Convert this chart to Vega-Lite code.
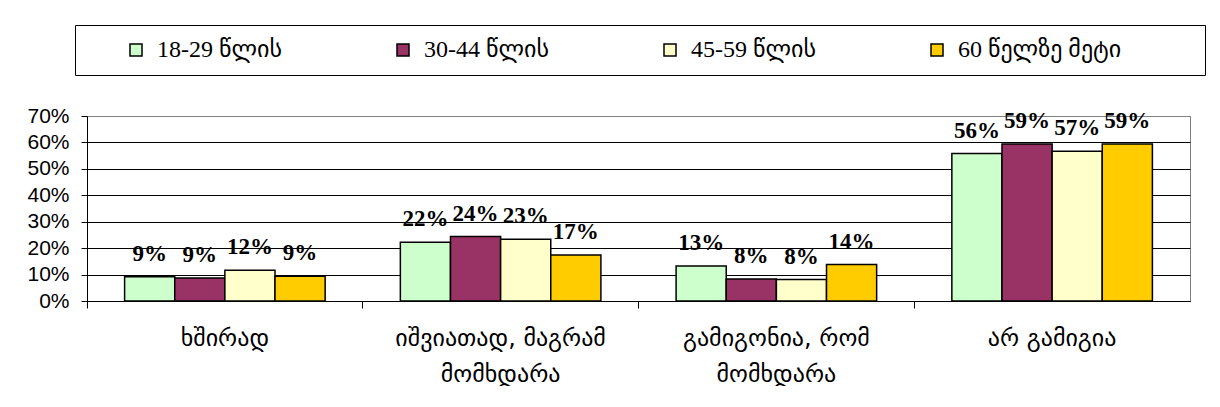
{
  "$schema": "https://vega.github.io/schema/vega-lite/v6.json",
  "width": 1103,
  "height": 185,
  "padding": {"left": 26, "top": 24, "right": 5, "bottom": 0},
  "background": "white",
  "config": {
    "view": {"stroke": "#808080", "strokeWidth": 1},
    "axis": {"labelColor": "black", "domainColor": "black", "tickColor": "black"}
  },
  "data": {
    "values": [
      {"cat": "ხშირად", "age": "18-29 წლის", "v": 0.092},
      {"cat": "ხშირად", "age": "30-44 წლის", "v": 0.087},
      {"cat": "ხშირად", "age": "45-59 წლის", "v": 0.116},
      {"cat": "ხშირად", "age": "60 წელზე მეტი", "v": 0.094},
      {"cat": "იშვიათად, მაგრამ მომხდარა", "age": "18-29 წლის", "v": 0.222},
      {"cat": "იშვიათად, მაგრამ მომხდარა", "age": "30-44 წლის", "v": 0.244},
      {"cat": "იშვიათად, მაგრამ მომხდარა", "age": "45-59 წლის", "v": 0.234},
      {"cat": "იშვიათად, მაგრამ მომხდარა", "age": "60 წელზე მეტი", "v": 0.174},
      {"cat": "გამიგონია, რომ მომხდარა", "age": "18-29 წლის", "v": 0.132},
      {"cat": "გამიგონია, რომ მომხდარა", "age": "30-44 წლის", "v": 0.083},
      {"cat": "გამიგონია, რომ მომხდარა", "age": "45-59 წლის", "v": 0.081},
      {"cat": "გამიგონია, რომ მომხდარა", "age": "60 წელზე მეტი", "v": 0.138},
      {"cat": "არ გამიგია", "age": "18-29 წლის", "v": 0.558},
      {"cat": "არ გამიგია", "age": "30-44 წლის", "v": 0.594},
      {"cat": "არ გამიგია", "age": "45-59 წლის", "v": 0.567},
      {"cat": "არ გამიგია", "age": "60 წელზე მეტი", "v": 0.594}
    ]
  },
  "resolve": {"axis": {"x": "independent"}},
  "layer": [
    {
      "mark": {"type": "bar", "stroke": "black", "strokeWidth": 1.5},
      "encoding": {
        "x": {
          "field": "cat", "type": "nominal", "sort": null,
          "scale": {"paddingInner": 0, "paddingOuter": 0},
          "axis": {"orient": "bottom", "title": null, "labels": false, "ticks": true, "tickSize": 7, "bandPosition": 0, "domain": true, "grid": false}
        },
        "xOffset": {
          "field": "age", "type": "nominal", "sort": null,
          "scale": {"paddingInner": 0, "paddingOuter": 0.75}
        },
        "y": {
          "field": "v", "type": "quantitative",
          "scale": {"domain": [0, 0.7], "nice": false},
          "axis": {
            "title": null, "format": ".0%", "values": [0, 0.1, 0.2, 0.3, 0.4, 0.5, 0.6, 0.7],
            "labelOverlap": false,
            "labelFont": "Liberation Sans", "labelFontSize": 21, "labelPadding": 12, "tickSize": 6,
            "grid": true,
            "gridColor": {"condition": {"test": "datum.value >= 0.7", "value": "#808080"}, "value": "black"},
            "gridWidth": 1, "gridOpacity": 1
          }
        },
        "color": {
          "field": "age", "type": "nominal", "sort": null,
          "scale": {
            "domain": ["18-29 წლის", "30-44 წლის", "45-59 წლის", "60 წელზე მეტი"],
            "range": ["#CCFFCC", "#993366", "#FFFFCC", "#FFCC00"]
          },
          "legend": {
            "orient": "none", "legendX": -12, "legendY": -91,
            "direction": "horizontal", "columns": 4, "gridAlign": "all", "columnPadding": 0,
            "padding": 13, "strokeColor": "black", "fillColor": "white",
            "title": " ", "titleOrient": "left", "titleFontSize": 1, "titlePadding": 36,
            "symbolType": "square", "symbolSize": 144, "symbolStrokeColor": "black", "symbolStrokeWidth": 1.5,
            "labelFont": "Liberation Serif, DejaVu Sans", "labelFontSize": 24, "labelOffset": 9, "labelColor": "black", "labelLimit": 600,
            "labelExpr": "datum.label + '\u2800\u2800\u2800\u2800'"
          }
        }
      }
    },
    {
      "mark": {"type": "text", "font": "Liberation Serif", "fontWeight": "bold", "fontSize": 23, "baseline": "middle", "dy": -23, "color": "black"},
      "encoding": {
        "x": {
          "field": "cat", "type": "nominal", "sort": null,
          "axis": {
            "orient": "bottom", "title": null, "ticks": false, "domain": false, "grid": false,
            "labelAngle": 0, "labelFont": "DejaVu Sans", "labelFontSize": 24, "labelLineHeight": 36,
            "labelPadding": 25, "labelLimit": 500,
            "labelExpr": "split(replace(datum.label, ' მომხდარა', '|მომხდარა'), '|')"
          }
        },
        "xOffset": {"field": "age", "type": "nominal", "sort": null},
        "y": {
          "field": "v", "type": "quantitative",
          "axis": {
            "title": null, "format": ".0%", "values": [0, 0.1, 0.2, 0.3, 0.4, 0.5, 0.6, 0.7],
            "labelOverlap": false,
            "labelFont": "Liberation Sans", "labelFontSize": 21, "labelPadding": 12, "tickSize": 6,
            "grid": true,
            "gridColor": {"condition": {"test": "datum.value >= 0.7", "value": "#808080"}, "value": "black"},
            "gridWidth": 1, "gridOpacity": 1
          }
        },
        "text": {"field": "v", "type": "quantitative", "format": ".0%"}
      }
    }
  ]
}
